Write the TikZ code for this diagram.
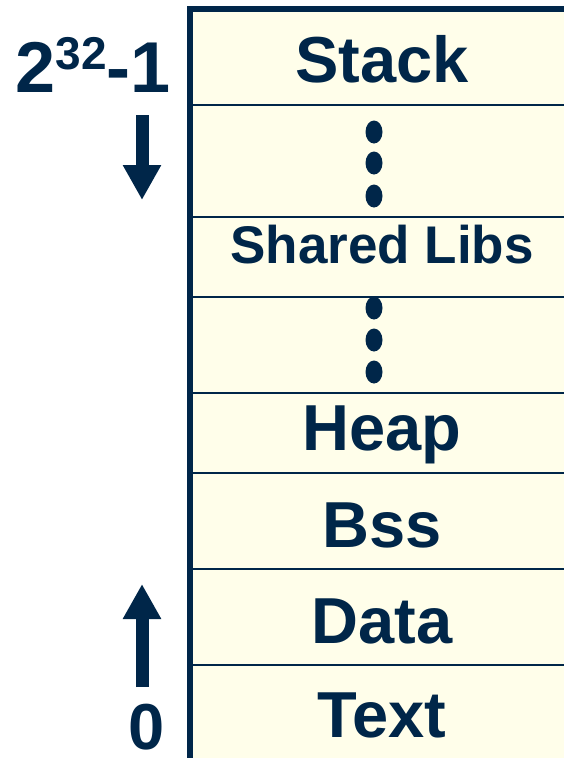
\documentclass[tikz,border=0pt]{standalone}
\usepackage{fontspec}
\setmainfont{Liberation Sans}
\usetikzlibrary{arrows.meta}
\definecolor{navy}{RGB}{0,38,73}
\definecolor{memfill}{RGB}{255,254,234}

\begin{document}
\begin{tikzpicture}[x=1pt,y=-1pt,
  seg/.style={anchor=base,text=navy,inner sep=0pt,font=\bfseries\fontsize{65}{70}\selectfont},
  addr/.style={text=navy,inner sep=0pt,font=\bfseries\fontsize{65}{70}\selectfont},
  divline/.style={draw=navy,line width=2pt},
  growarrow/.style={navy,line width=13pt,-{Triangle[length=35pt,width=36pt]}}]

\useasboundingbox (0,0) rectangle (564,758);

% memory block
\fill[memfill] (190,9) rectangle (570,765);
\draw[divline] (190,105) -- (570,105);
\draw[divline] (190,217) -- (570,217);
\draw[divline] (190,297) -- (570,297);
\draw[divline] (190,393) -- (570,393);
\draw[divline] (190,473) -- (570,473);
\draw[divline] (190,569) -- (570,569);
\draw[divline] (190,665) -- (570,665);
\draw[navy,line width=6pt] (190,765) -- (190,9) -- (570,9);

% segments
\node[seg] (stack) at (382,82) {Stack};
\node[seg,font=\bfseries\fontsize{53}{58}\selectfont] (libs) at (382,263) {Shared Libs};
\node[seg] (heap) at (382,450) {Heap};
\node[seg] (bss) at (382,547) {Bss};
\node[seg] (data) at (382,643) {Data};
\node[seg] (text) at (382,737) {Text};

% gaps
\foreach \y in {132,163,196,308,340,372}
  \fill[navy] (374,\y) ellipse [x radius=8.5pt,y radius=11.5pt];

% addresses
\node[addr,anchor=base east,font=\bfseries\fontsize{72}{76}\selectfont] (high) at (171,92)
  {2\raisebox{23pt}{\fontsize{46}{50}\selectfont 32}-1};
\node[addr,anchor=base] (low) at (146.5,749) {0};

% growth
\coordinate (stacktail) at (142,115);
\coordinate (stackhead) at (142,200);
\coordinate (heaptail) at (142,687);
\coordinate (heaphead) at (142,584);
\draw[growarrow] (stacktail) -- (stackhead);
\draw[growarrow] (heaptail) -- (heaphead);

\end{tikzpicture}
\end{document}
